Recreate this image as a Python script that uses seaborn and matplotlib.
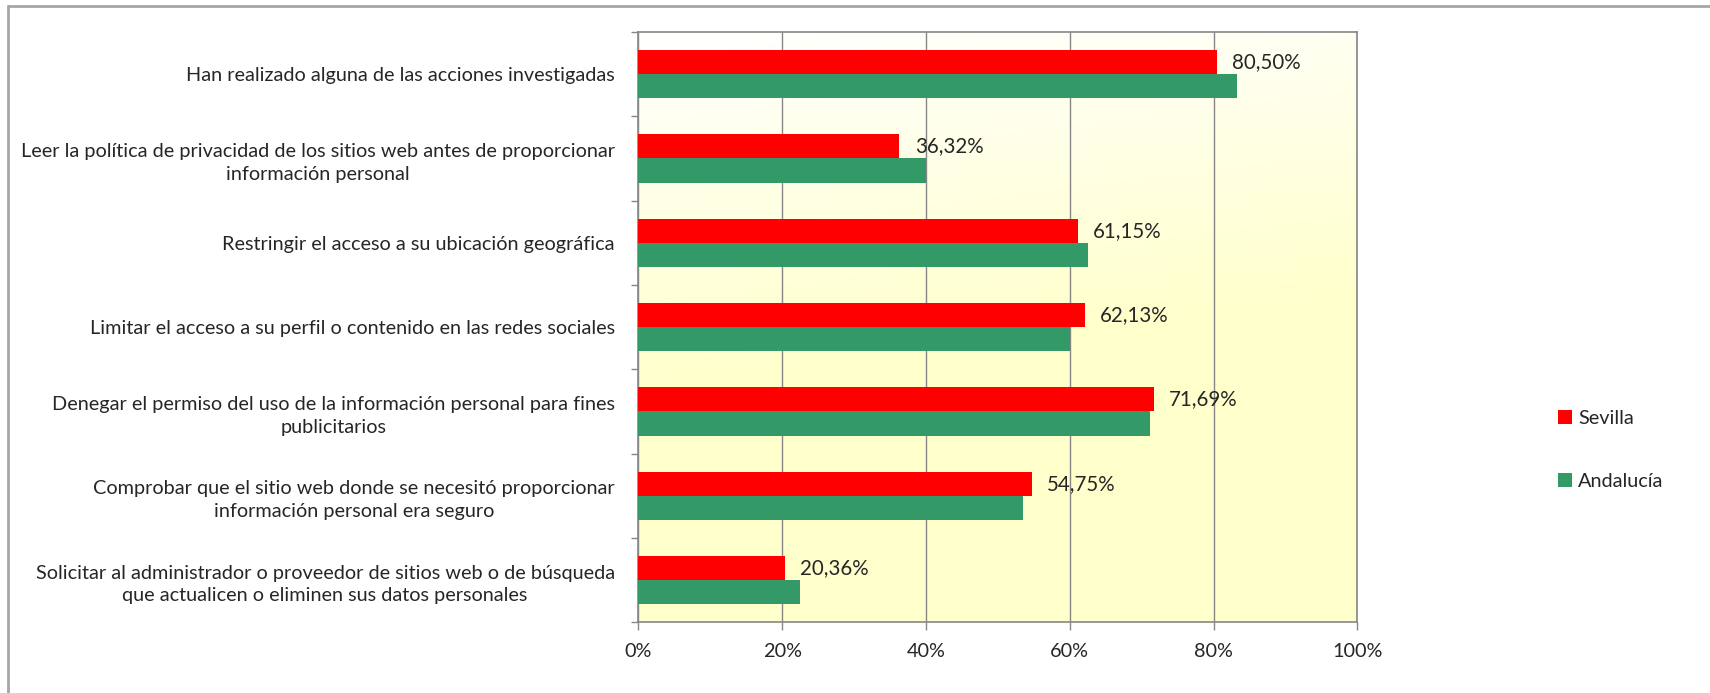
import numpy as np
import pandas as pd
import seaborn as sns
import matplotlib.pyplot as plt
from matplotlib.lines import Line2D
from matplotlib.colors import LinearSegmentedColormap


categorias = [
    "Han realizado alguna de las acciones investigadas",
    "Leer la política de privacidad de los sitios web antes de proporcionar\ninformación personal",
    "Restringir el acceso a su ubicación geográfica",
    "Limitar el acceso a su perfil o contenido en las redes sociales",
    "Denegar el permiso del uso de la información personal para fines\npublicitarios",
    "Comprobar que el sitio web donde se necesitó proporcionar\ninformación personal era seguro",
    "Solicitar al administrador o proveedor de sitios web o de búsqueda\nque actualicen o eliminen sus datos personales",
]
sevilla = [80.50, 36.32, 61.15, 62.13, 71.69, 54.75, 20.36]
andalucia = [83.3, 40.0, 62.6, 60.1, 71.15, 53.5, 22.5]
series = ["Sevilla", "Andalucía"]
colores = {"Sevilla": "#FF0000", "Andalucía": "#339966"}
xticks = [0, 20, 40, 60, 80, 100]

df = pd.DataFrame({
    "categoria": categorias * 2,
    "serie": [series[0]] * len(categorias) + [series[1]] * len(categorias),
    "valor": sevilla + andalucia,
})

sns.set_style("white")
plt.rcParams["font.family"] = ["Lato", "DejaVu Sans"]
fs = 14.3

fig = plt.figure(figsize=(17.1, 6.93), dpi=100)
ax = fig.add_axes([638.3 / 1710, 1 - 622.3 / 693, 719 / 1710, 590.3 / 693])

# fondo degradado: blanco arriba, amarillo claro abajo
yy, xx = np.mgrid[0:1:200j, 0:1:200j]
grad = np.clip((yy + 0.15 * xx) / 0.6, 0, 1)
cmap = LinearSegmentedColormap.from_list("fondo", ["#FFFFFF", "#FFFFCC"])
ax.imshow(grad, cmap=cmap, extent=[0, 1, 0, 1], transform=ax.transAxes,
          aspect="auto", zorder=0, origin="upper")

sns.barplot(data=df, y="categoria", x="valor", hue="serie", hue_order=series,
            palette=colores, orient="h", width=0.57, saturation=1,
            edgecolor="none", ax=ax, zorder=3)

ax.set_xlim(0, 100)
ax.set_ylim(6.5, -0.5)
ax.set_xticks(xticks)
ax.set_xticklabels([f"{t}%" for t in xticks], fontsize=fs)
ax.set_yticks(range(len(categorias)))
ax.set_yticklabels(categorias, fontsize=fs, multialignment="center", linespacing=1.4)
ax.set_yticks(np.arange(-0.5, len(categorias), 1), minor=True)
ax.tick_params(axis="y", which="major", length=0, pad=17)
ax.tick_params(axis="y", which="minor", length=5, color="#868686", width=1, left=True)
ax.tick_params(axis="x", length=6, color="#868686", width=1, pad=9, bottom=True)
ax.set_xlabel("")
ax.set_ylabel("")
ax.grid(axis="x", color="#868686", linewidth=1, zorder=1)
ax.set_axisbelow(True)
for s in ax.spines.values():
    s.set_color("#868686")
    s.set_linewidth(1.2)
    s.set_visible(True)

etiquetas = [f"{v:.2f}".replace(".", ",") + "%" for v in sevilla]
ax.bar_label(ax.containers[0], labels=etiquetas, padding=11, fontsize=fs + 0.5)

h, l = ax.get_legend_handles_labels()
ax.legend(h, l, loc="center left", bbox_to_anchor=(1558 / 1710, 1 - 450 / 693),
          bbox_transform=fig.transFigure, frameon=False, fontsize=fs,
          handlelength=0.7, handleheight=0.7, handletextpad=0.3,
          labelspacing=2.3, borderpad=0, borderaxespad=0)

# borde del area del grafico
x0, y0 = 7.5 / 1710, 1 - 6 / 693
fig.add_artist(Line2D([x0, x0], [0, y0], color="#A6A6A6", linewidth=2, transform=fig.transFigure))
fig.add_artist(Line2D([x0, 1], [y0, y0], color="#A6A6A6", linewidth=2, transform=fig.transFigure))

fig.savefig("out.png", dpi=100)
